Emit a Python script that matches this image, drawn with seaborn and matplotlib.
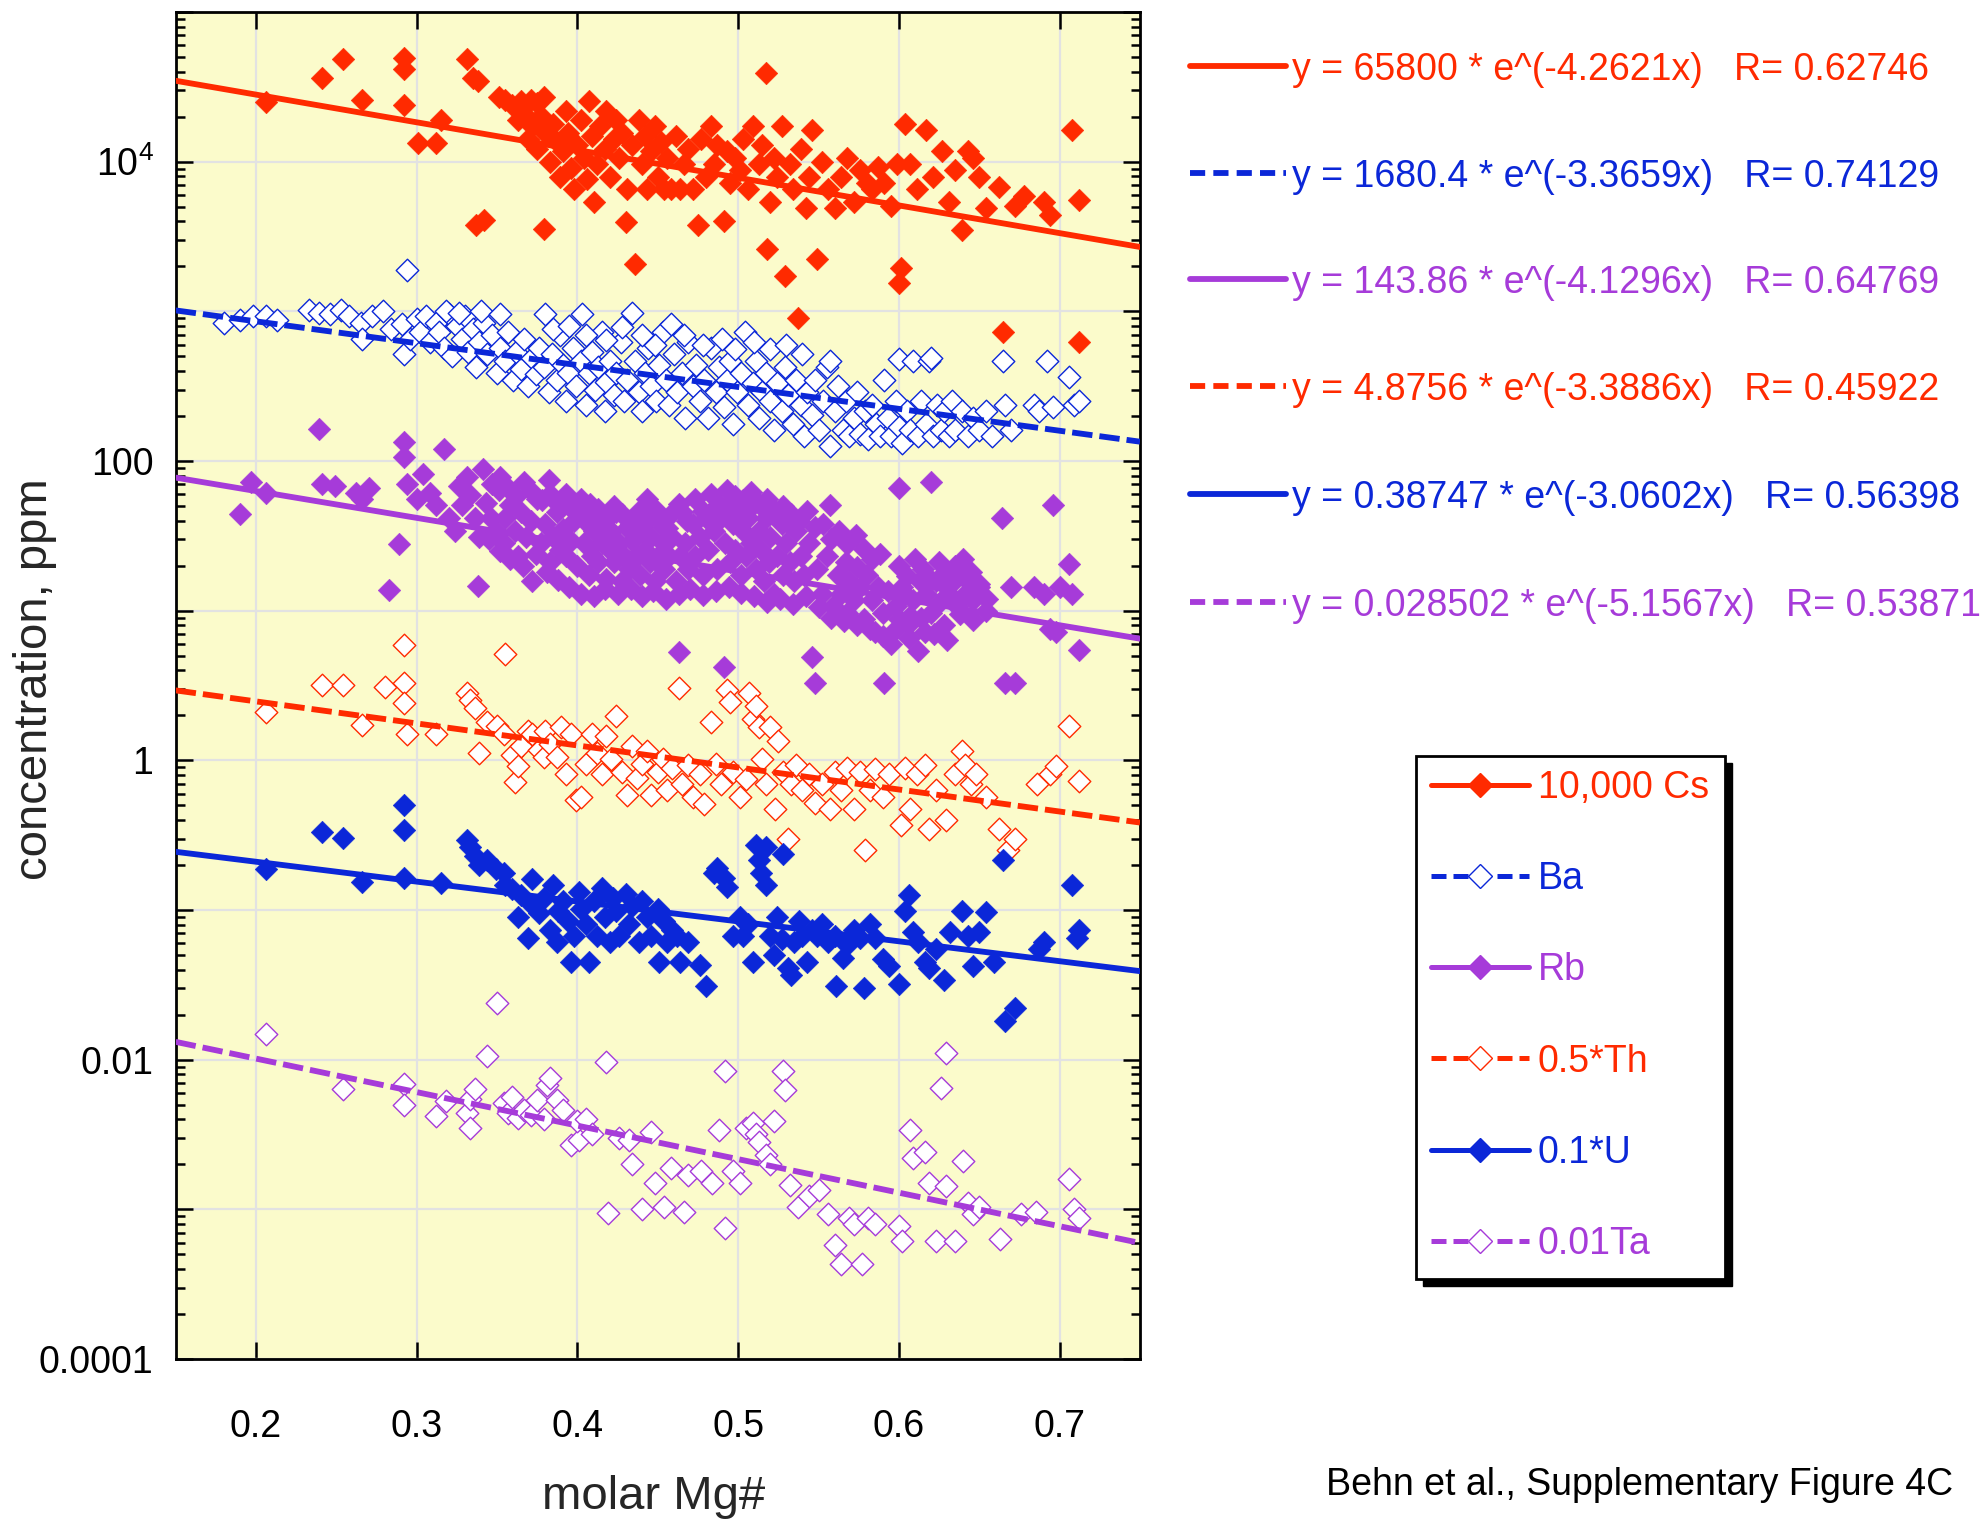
import numpy as np
import pandas as pd
import matplotlib
matplotlib.use("Agg")
import matplotlib.pyplot as plt
from matplotlib.lines import Line2D
from matplotlib.patches import Rectangle
from matplotlib.ticker import FixedLocator, FuncFormatter, LogLocator, NullFormatter, NullLocator
import seaborn as sns

# ---------------------------------------------------------------------------
# Data: (molar Mg#, scaled concentration in ppm) for each element
# ---------------------------------------------------------------------------
cs_points = [
    (0.206, 24900), (0.241, 36100), (0.254, 48300), (0.266, 25900), (0.292, 49300), (0.292, 41400),
    (0.292, 24000), (0.315, 19000), (0.312, 13400), (0.301, 13400), (0.331, 48300), (0.335, 36100),
    (0.338, 34700), (0.351, 26900), (0.355, 25900), (0.359, 24000), (0.365, 25400), (0.371, 25900),
    (0.375, 24500), (0.379, 26900), (0.337, 3790), (0.342, 4090), (0.379, 3570), (0.363, 19000),
    (0.367, 20900), (0.369, 14200), (0.372, 17200), (0.375, 12200), (0.377, 20100), (0.380, 15600),
    (0.383, 10000), (0.385, 17900), (0.387, 13600), (0.389, 7920), (0.391, 11700), (0.393, 21700),
    (0.394, 15600), (0.396, 9070), (0.398, 6520), (0.400, 12900), (0.402, 19000), (0.404, 10600),
    (0.406, 7620), (0.407, 25400), (0.409, 14800), (0.410, 5370), (0.412, 9620), (0.414, 17200),
    (0.417, 12200), (0.418, 21700), (0.420, 7920), (0.423, 14200), (0.424, 19000), (0.426, 10600),
    (0.428, 15600), (0.430, 3930), (0.431, 6520), (0.434, 12900), (0.436, 2070), (0.438, 19000),
    (0.440, 9620), (0.442, 14800), (0.443, 6520), (0.446, 11700), (0.448, 17200), (0.450, 7920),
    (0.452, 13600), (0.454, 6520), (0.456, 10600), (0.458, 6520), (0.461, 14800), (0.464, 6520),
    (0.466, 9620), (0.469, 12200), (0.472, 6520), (0.475, 3790), (0.477, 14200), (0.480, 7920),
    (0.483, 17200), (0.485, 9620), (0.487, 12900), (0.491, 4010), (0.493, 11700), (0.495, 7180),
    (0.498, 10600), (0.501, 8730), (0.503, 14200), (0.506, 6520), (0.509, 17200), (0.513, 9620),
    (0.515, 12900), (0.517, 39000), (0.518, 2620), (0.520, 5370), (0.522, 10600), (0.524, 7920),
    (0.527, 17200), (0.529, 1730), (0.532, 9620), (0.534, 6520), (0.537, 900), (0.539, 12200),
    (0.542, 4870), (0.544, 7920), (0.546, 16300), (0.549, 2240), (0.552, 10000), (0.556, 6520),
    (0.560, 4870), (0.564, 7920), (0.568, 10600), (0.572, 5370), (0.576, 8730), (0.580, 7180),
    (0.583, 6520), (0.587, 9250), (0.591, 7180), (0.595, 5050), (0.599, 9620), (0.601, 1950),
    (0.600, 1540), (0.604, 17900), (0.607, 9620), (0.611, 6520), (0.617, 16300), (0.621, 7920),
    (0.627, 11700), (0.631, 5370), (0.635, 8730), (0.639, 3490), (0.643, 11700), (0.646, 10600),
    (0.650, 7920), (0.654, 4870), (0.662, 6780), (0.665, 725), (0.672, 5060), (0.678, 5910),
    (0.690, 5370), (0.694, 4420), (0.708, 16300), (0.712, 620), (0.712, 5580),
]

ba_points = [
    (0.180, 840), (0.190, 870), (0.198, 925), (0.206, 925), (0.213, 870), (0.233, 1020), (0.239, 980),
    (0.246, 960), (0.253, 1020), (0.258, 925), (0.265, 840), (0.266, 650), (0.272, 925), (0.279, 1000),
    (0.284, 762), (0.291, 820), (0.294, 1900), (0.292, 516), (0.296, 650), (0.300, 890), (0.302, 730),
    (0.306, 925), (0.308, 627), (0.312, 840), (0.314, 730), (0.317, 569), (0.320, 960), (0.322, 500),
    (0.325, 800), (0.328, 650), (0.330, 925), (0.332, 535), (0.335, 762), (0.337, 425), (0.339, 627),
    (0.342, 840), (0.344, 516), (0.347, 691), (0.350, 386), (0.352, 569), (0.355, 469), (0.357, 730),
    (0.360, 350), (0.362, 535), (0.365, 410), (0.367, 650), (0.369, 318), (0.372, 485), (0.374, 380),
    (0.376, 569), (0.379, 425), (0.380, 960), (0.382, 288), (0.384, 516), (0.387, 350), (0.389, 691),
    (0.391, 440), (0.393, 250), (0.394, 386), (0.397, 569), (0.399, 318), (0.402, 469), (0.403, 960),
    (0.405, 237), (0.407, 386), (0.409, 535), (0.411, 300), (0.413, 425), (0.415, 730), (0.417, 215),
    (0.418, 335), (0.420, 469), (0.423, 277), (0.424, 386), (0.427, 627), (0.429, 250), (0.431, 350),
    (0.434, 980), (0.436, 469), (0.438, 288), (0.440, 215), (0.442, 386), (0.444, 569), (0.446, 318),
    (0.449, 250), (0.451, 440), (0.453, 730), (0.455, 350), (0.457, 237), (0.460, 516), (0.462, 288),
    (0.465, 386), (0.467, 195), (0.469, 627), (0.472, 318), (0.474, 440), (0.476, 250), (0.479, 350),
    (0.481, 195), (0.483, 569), (0.486, 288), (0.488, 425), (0.491, 228), (0.493, 350), (0.495, 469),
    (0.497, 177), (0.499, 288), (0.502, 386), (0.504, 730), (0.506, 237), (0.509, 330), (0.511, 469),
    (0.513, 195), (0.515, 288), (0.517, 386), (0.520, 250), (0.522, 161), (0.524, 330), (0.527, 215),
    (0.529, 425), (0.531, 277), (0.534, 177), (0.536, 350), (0.539, 237), (0.541, 146), (0.543, 288),
    (0.546, 203), (0.548, 350), (0.550, 161), (0.553, 250), (0.555, 425), (0.557, 126), (0.557, 469),
    (0.560, 215), (0.562, 318), (0.565, 161), (0.567, 250), (0.569, 146), (0.572, 195), (0.574, 288),
    (0.576, 152), (0.579, 215), (0.581, 140), (0.583, 237), (0.586, 177), (0.588, 146), (0.591, 350),
    (0.593, 195), (0.595, 146), (0.598, 250), (0.600, 168), (0.600, 480), (0.602, 132), (0.605, 215),
    (0.607, 161), (0.609, 469), (0.612, 146), (0.614, 250), (0.617, 177), (0.619, 469), (0.620, 490),
    (0.621, 146), (0.624, 237), (0.626, 161), (0.628, 215), (0.631, 146), (0.633, 250), (0.635, 161),
    (0.639, 215), (0.643, 146), (0.646, 195), (0.650, 161), (0.654, 215), (0.658, 146), (0.665, 469),
    (0.666, 237), (0.670, 161), (0.684, 237), (0.687, 215), (0.692, 469), (0.696, 228), (0.706, 365),
    (0.709, 237), (0.712, 250), (0.318, 1000), (0.326, 980), (0.340, 1000), (0.352, 960), (0.385, 760),
    (0.395, 800), (0.405, 700), (0.418, 640), (0.428, 780), (0.440, 690), (0.448, 600), (0.458, 820),
    (0.466, 700), (0.478, 600), (0.490, 650), (0.498, 560), (0.510, 620), (0.520, 560), (0.530, 600),
    (0.540, 520),
]

rb_points = [
    (0.190, 44), (0.197, 72), (0.206, 61.5), (0.239, 163), (0.241, 70), (0.249, 68), (0.262, 61.5),
    (0.266, 56), (0.270, 66), (0.283, 13.8), (0.289, 28), (0.292, 134), (0.292, 106), (0.294, 70),
    (0.300, 56), (0.304, 82), (0.308, 61.5), (0.312, 50.6), (0.317, 121), (0.320, 41.7), (0.324, 34.3),
    (0.326, 68), (0.328, 50.6), (0.331, 78), (0.333, 59), (0.336, 41.7), (0.338, 14.6), (0.339, 31.1),
    (0.343, 52.6), (0.346, 41.7), (0.349, 34.3), (0.351, 64), (0.354, 28.2), (0.355, 41.7), (0.358, 50.6),
    (0.361, 34.3), (0.363, 23.3), (0.365, 45.9), (0.368, 31.1), (0.371, 40), (0.372, 15.8), (0.375, 55.8),
    (0.377, 28.2), (0.380, 37.8), (0.382, 74.7), (0.383, 21.1), (0.385, 31.1), (0.387, 45.9), (0.389, 25.6),
    (0.391, 35.3), (0.393, 23.3), (0.394, 50.6), (0.396, 29.4), (0.398, 40), (0.400, 20), (0.402, 55.8),
    (0.404, 28.2), (0.406, 38.5), (0.407, 17.4), (0.409, 23.3), (0.410, 34.3), (0.412, 45.9), (0.413, 21.1),
    (0.415, 28.2), (0.417, 40), (0.418, 16.4), (0.420, 25.6), (0.421, 34.3), (0.423, 21.1), (0.424, 45.9),
    (0.426, 28.2), (0.428, 15.8), (0.429, 23.3), (0.431, 35.7), (0.432, 19.1), (0.434, 29.4), (0.435, 41.7),
    (0.437, 23.3), (0.439, 17.4), (0.440, 34.3), (0.442, 25.6), (0.443, 55.8), (0.445, 21.1), (0.446, 31.1),
    (0.448, 15.8), (0.450, 23.3), (0.451, 41.7), (0.453, 28.2), (0.454, 19.1), (0.456, 35.7), (0.457, 23.3),
    (0.459, 31.1), (0.461, 15.8), (0.463, 5.3), (0.464, 23.3), (0.465, 45.9), (0.467, 28.2), (0.469, 19.1),
    (0.472, 37.8), (0.473, 23.3), (0.476, 31.1), (0.478, 17.4), (0.480, 41.7), (0.481, 25.6), (0.483, 45.9),
    (0.485, 34.3), (0.487, 19.1), (0.489, 41.7), (0.491, 4.2), (0.492, 28.2), (0.494, 50.6), (0.495, 21.1),
    (0.497, 37.8), (0.498, 25.6), (0.500, 45.9), (0.502, 17.4), (0.503, 34.3), (0.505, 23.3), (0.506, 41.7),
    (0.508, 28.2), (0.509, 50.6), (0.511, 19.1), (0.513, 34.3), (0.514, 25.6), (0.516, 15.8), (0.517, 41.7),
    (0.519, 21.1), (0.520, 31.1), (0.522, 13), (0.524, 23.3), (0.527, 37.8), (0.528, 17.4), (0.530, 28.2),
    (0.532, 21.1), (0.535, 15.8), (0.536, 34.3), (0.539, 23.3), (0.541, 17.4), (0.544, 28.2), (0.546, 4.9),
    (0.548, 3.3), (0.549, 19.1), (0.552, 13), (0.555, 23.3), (0.557, 50.6), (0.559, 10.7), (0.562, 17.4),
    (0.564, 13), (0.567, 21.1), (0.568, 9.7), (0.569, 15.8), (0.572, 11.8), (0.574, 19.7), (0.576, 14.3),
    (0.578, 8.8), (0.580, 17.4), (0.583, 11.8), (0.585, 7.2), (0.587, 14.3), (0.590, 9.7), (0.591, 3.3),
    (0.593, 13.6), (0.595, 6), (0.598, 10.7), (0.600, 8.8), (0.602, 14.3), (0.604, 13), (0.606, 6.6),
    (0.607, 9.2), (0.609, 11.8), (0.612, 5.4), (0.613, 15.8), (0.616, 7.2), (0.617, 13), (0.620, 72),
    (0.620, 9.7), (0.623, 15.8), (0.625, 11.2), (0.628, 8), (0.629, 14.3), (0.631, 13), (0.634, 15.8),
    (0.636, 10.7), (0.639, 17.4), (0.641, 13), (0.643, 15.8), (0.646, 11.8), (0.650, 14.3), (0.664, 41.7),
    (0.666, 3.3), (0.672, 3.3), (0.670, 14.3), (0.684, 14.3), (0.690, 13), (0.694, 7.5), (0.698, 7.2),
    (0.700, 14.3), (0.706, 20.5), (0.708, 13), (0.712, 5.5), (0.696, 50.6), (0.600, 66),
    (0.341, 88), (0.347, 70), (0.352, 78), (0.357, 66), (0.362, 58), (0.367, 72), (0.372, 62), (0.378, 55),
    (0.383, 60), (0.388, 52), (0.393, 60), (0.398, 47), (0.403, 44), (0.408, 52), (0.413, 48), (0.418, 42),
    (0.423, 50), (0.428, 44), (0.433, 38), (0.438, 46), (0.443, 40), (0.448, 48), (0.453, 36), (0.458, 44),
    (0.463, 52), (0.468, 40), (0.473, 56), (0.478, 46), (0.483, 60), (0.488, 52), (0.493, 64), (0.498, 58),
    (0.503, 55), (0.508, 62), (0.513, 52), (0.518, 56), (0.523, 46), (0.528, 50), (0.533, 44), (0.538, 40),
    (0.543, 46), (0.548, 36), (0.553, 38), (0.558, 30), (0.563, 34), (0.568, 28), (0.573, 32), (0.578, 26),
    (0.583, 22), (0.588, 24), (0.345, 30), (0.352, 25), (0.358, 22), (0.366, 20), (0.374, 24), (0.381, 18),
    (0.388, 16), (0.395, 14.5), (0.402, 13), (0.410, 12.5), (0.417, 14), (0.425, 13), (0.433, 14),
    (0.440, 12.5), (0.447, 13.5), (0.455, 12), (0.463, 13), (0.470, 14), (0.478, 12.8), (0.486, 13.5),
    (0.494, 14.5), (0.502, 13.2), (0.510, 12.5), (0.518, 11.5), (0.526, 12), (0.534, 11), (0.542, 12.5),
    (0.550, 10.5), (0.558, 9), (0.566, 8.5), (0.574, 8), (0.582, 7.5), (0.590, 6.8), (0.598, 7.6),
    (0.606, 8.2), (0.614, 9), (0.622, 7), (0.630, 6.4), (0.638, 9.5), (0.646, 8.6), (0.654, 10),
    (0.600, 20), (0.605, 17), (0.610, 22), (0.615, 19), (0.620, 16), (0.625, 21), (0.630, 18), (0.635, 20),
    (0.640, 22), (0.645, 18), (0.650, 15), (0.655, 12),
]

th_points = [
    (0.206, 2.09), (0.241, 3.21), (0.254, 3.21), (0.266, 1.72), (0.280, 3.09), (0.292, 5.87), (0.292, 3.27),
    (0.292, 2.4), (0.294, 1.5), (0.312, 1.5), (0.331, 2.8), (0.333, 2.54), (0.336, 2.22), (0.339, 1.12),
    (0.344, 1.79), (0.350, 1.69), (0.354, 1.5), (0.355, 5.1), (0.359, 1.08), (0.361, 0.72), (0.363, 0.91),
    (0.365, 1.24), (0.369, 1.56), (0.372, 1.5), (0.376, 1.17), (0.379, 1.06), (0.380, 1.56), (0.383, 1.29),
    (0.387, 1.06), (0.390, 1.66), (0.393, 0.81), (0.396, 1.5), (0.399, 0.54), (0.402, 0.57), (0.405, 0.94),
    (0.409, 1.5), (0.412, 1.12), (0.415, 0.81), (0.418, 1.45), (0.421, 1.02), (0.424, 1.97), (0.428, 0.84),
    (0.431, 0.59), (0.434, 1.24), (0.437, 0.76), (0.440, 0.94), (0.443, 1.15), (0.446, 0.59), (0.450, 0.84),
    (0.453, 1.02), (0.456, 0.63), (0.459, 0.89), (0.463, 3.03), (0.465, 0.69), (0.469, 0.93), (0.472, 0.57),
    (0.476, 0.81), (0.479, 0.51), (0.483, 1.79), (0.486, 0.94), (0.489, 0.69), (0.493, 2.97), (0.495, 2.45),
    (0.497, 0.84), (0.501, 0.57), (0.505, 0.75), (0.507, 2.8), (0.509, 1.9), (0.511, 2.31), (0.513, 1.66),
    (0.515, 1.02), (0.517, 0.69), (0.520, 1.66), (0.523, 0.47), (0.525, 1.34), (0.528, 0.84), (0.531, 0.3),
    (0.533, 0.69), (0.536, 0.93), (0.540, 0.63), (0.544, 0.81), (0.548, 0.52), (0.552, 0.69), (0.557, 0.47),
    (0.560, 0.84), (0.564, 0.63), (0.568, 0.89), (0.572, 0.47), (0.576, 0.84), (0.579, 0.25), (0.582, 0.63),
    (0.585, 0.87), (0.590, 0.57), (0.594, 0.81), (0.601, 0.37), (0.604, 0.89), (0.607, 0.47), (0.611, 0.81),
    (0.616, 0.93), (0.619, 0.35), (0.623, 0.63), (0.629, 0.4), (0.635, 0.81), (0.639, 1.15), (0.641, 0.93),
    (0.645, 0.69), (0.648, 0.81), (0.654, 0.57), (0.662, 0.35), (0.668, 0.25), (0.672, 0.3), (0.686, 0.69),
    (0.694, 0.81), (0.698, 0.91), (0.706, 1.69), (0.712, 0.73),
]

u_points = [
    (0.206, 0.188), (0.241, 0.33), (0.254, 0.305), (0.266, 0.155), (0.292, 0.506), (0.292, 0.343),
    (0.292, 0.164), (0.315, 0.152), (0.331, 0.294), (0.333, 0.262), (0.336, 0.228), (0.339, 0.2),
    (0.344, 0.215), (0.349, 0.188), (0.354, 0.177), (0.355, 0.146), (0.359, 0.138), (0.363, 0.09),
    (0.365, 0.125), (0.369, 0.065), (0.371, 0.109), (0.372, 0.16), (0.376, 0.095), (0.379, 0.12),
    (0.383, 0.074), (0.385, 0.146), (0.387, 0.061), (0.388, 0.099), (0.391, 0.115), (0.394, 0.085),
    (0.396, 0.045), (0.398, 0.067), (0.401, 0.132), (0.402, 0.102), (0.405, 0.081), (0.407, 0.045),
    (0.410, 0.115), (0.412, 0.067), (0.415, 0.14), (0.417, 0.09), (0.420, 0.061), (0.422, 0.12),
    (0.424, 0.099), (0.426, 0.067), (0.430, 0.128), (0.432, 0.081), (0.434, 0.107), (0.438, 0.061),
    (0.440, 0.115), (0.443, 0.09), (0.446, 0.067), (0.450, 0.102), (0.451, 0.045), (0.454, 0.085),
    (0.456, 0.061), (0.459, 0.074), (0.462, 0.067), (0.464, 0.045), (0.469, 0.061), (0.476, 0.043),
    (0.480, 0.031), (0.485, 0.177), (0.487, 0.19), (0.491, 0.164), (0.493, 0.143), (0.497, 0.067),
    (0.501, 0.09), (0.503, 0.067), (0.506, 0.081), (0.509, 0.045), (0.511, 0.272), (0.513, 0.215),
    (0.514, 0.177), (0.517, 0.262), (0.517, 0.146), (0.520, 0.067), (0.522, 0.05), (0.524, 0.09),
    (0.527, 0.064), (0.528, 0.237), (0.531, 0.041), (0.533, 0.037), (0.535, 0.061), (0.538, 0.085),
    (0.540, 0.067), (0.543, 0.045), (0.546, 0.074), (0.549, 0.067), (0.552, 0.081), (0.556, 0.061),
    (0.560, 0.067), (0.561, 0.031), (0.565, 0.048), (0.568, 0.058), (0.572, 0.074), (0.576, 0.065),
    (0.578, 0.03), (0.582, 0.081), (0.585, 0.065), (0.590, 0.047), (0.594, 0.042), (0.600, 0.032),
    (0.604, 0.099), (0.606, 0.125), (0.609, 0.071), (0.612, 0.061), (0.616, 0.045), (0.619, 0.041),
    (0.623, 0.055), (0.628, 0.034), (0.632, 0.071), (0.639, 0.099), (0.643, 0.067), (0.646, 0.042),
    (0.650, 0.071), (0.654, 0.097), (0.659, 0.045), (0.665, 0.215), (0.666, 0.018), (0.672, 0.022),
    (0.687, 0.055), (0.690, 0.061), (0.708, 0.146), (0.711, 0.065), (0.712, 0.074),
]

ta_points = [
    (0.206, 0.0148), (0.254, 0.0064), (0.292, 0.0069), (0.292, 0.0050), (0.312, 0.0042), (0.318, 0.0053),
    (0.331, 0.0044), (0.333, 0.0055), (0.333, 0.0035), (0.336, 0.0064), (0.344, 0.0106), (0.350, 0.024),
    (0.354, 0.0051), (0.357, 0.0044), (0.359, 0.0056), (0.363, 0.0041), (0.367, 0.0046), (0.371, 0.0043),
    (0.375, 0.0054), (0.379, 0.0040), (0.381, 0.0068), (0.383, 0.0076), (0.387, 0.0054), (0.391, 0.0046),
    (0.396, 0.0027), (0.401, 0.0029), (0.400, 0.0039), (0.405, 0.0040), (0.409, 0.0032), (0.418, 0.0096),
    (0.419, 0.00095), (0.426, 0.0030), (0.432, 0.0029), (0.434, 0.0020), (0.440, 0.0010), (0.446, 0.0033),
    (0.448, 0.0015), (0.454, 0.00103), (0.458, 0.0019), (0.466, 0.00096), (0.469, 0.0017), (0.477, 0.0018),
    (0.484, 0.0015), (0.488, 0.0034), (0.492, 0.0084), (0.492, 0.00075), (0.497, 0.0018), (0.501, 0.0015),
    (0.505, 0.0035), (0.509, 0.0038), (0.511, 0.0032), (0.513, 0.0028), (0.517, 0.0023), (0.520, 0.0020),
    (0.522, 0.0039), (0.528, 0.0084), (0.529, 0.0063), (0.532, 0.00146), (0.537, 0.00103), (0.544, 0.00122),
    (0.550, 0.00135), (0.556, 0.00093), (0.560, 0.00058), (0.564, 0.00043), (0.569, 0.00088), (0.572, 0.0008),
    (0.577, 0.00043), (0.581, 0.00088), (0.585, 0.0008), (0.600, 0.00077), (0.602, 0.00061), (0.607, 0.0034),
    (0.609, 0.0022), (0.616, 0.0024), (0.619, 0.0015), (0.623, 0.00061), (0.629, 0.011), (0.626, 0.0065),
    (0.629, 0.00143), (0.635, 0.00061), (0.640, 0.0021), (0.643, 0.0011), (0.646, 0.00093), (0.650, 0.00103),
    (0.663, 0.00063), (0.676, 0.00093), (0.685, 0.00096), (0.706, 0.0016), (0.709, 0.0010), (0.712, 0.00088),
]

series_names = ["10,000 Cs", "Ba", "Rb", "0.5*Th", "0.1*U", "0.01Ta"]
series_points = [cs_points, ba_points, rb_points, th_points, u_points, ta_points]

# Exponential fits y = a * exp(b * x) and their correlation coefficients
fit_coef = [65800, 1680.4, 143.86, 4.8756, 0.38747, 0.028502]
fit_rate = [-4.2621, -3.3659, -4.1296, -3.3886, -3.0602, -5.1567]
fit_r = [0.62746, 0.74129, 0.64769, 0.45922, 0.56398, 0.53871]

# ---------------------------------------------------------------------------
# Styling
# ---------------------------------------------------------------------------
RED = "#FF2A00"
BLUE = "#0B27D8"
PURPLE = "#A63BD9"
series_colors = [RED, BLUE, PURPLE, RED, BLUE, PURPLE]
series_filled = [True, False, True, False, True, False]
DASH_PLOT = (0, (3.5, 1.2))
DASH_KEY = (0, (2.6, 1.4))
DASH_LEGEND = (0, (3.0, 1.4))

sns.set_theme(style="ticks")
plt.rcParams["font.family"] = ["Liberation Sans", "DejaVu Sans"]
plt.rcParams["mathtext.fontset"] = "custom"
plt.rcParams["mathtext.rm"] = "Liberation Sans"
plt.rcParams["mathtext.default"] = "regular"

W, H = 1982, 1520
fig = plt.figure(figsize=(W / 100, H / 100), dpi=100)
fig.patch.set_facecolor("white")


def fx(px):
    return px / W


def fy(py):
    return 1 - py / H


ax_left, ax_right, ax_top, ax_bottom = 175.7, 1140.0, 12.0, 1359.0
ax = fig.add_axes([fx(ax_left), fy(ax_bottom), (ax_right - ax_left) / W, (ax_bottom - ax_top) / H])
ax.set_facecolor("#FBFBCB")
ax.set_yscale("log")

frames = []
for name, pts in zip(series_names, series_points):
    frames.append(pd.DataFrame(pts, columns=["mg", "conc"]).assign(series=name))
df = pd.concat(frames, ignore_index=True)

x_fit = np.linspace(0.15, 0.75, 61)
for i, name in enumerate(series_names):
    sub = df[df["series"] == name]
    c = series_colors[i]
    if series_filled[i]:
        sns.scatterplot(data=sub, x="mg", y="conc", ax=ax, marker="D", s=132,
                        color=c, edgecolor=c, linewidth=0.4, legend=False, zorder=3)
    else:
        sns.scatterplot(data=sub, x="mg", y="conc", ax=ax, marker="D", s=132,
                        color="white", edgecolor=c, linewidth=1.0, legend=False, zorder=3)
    y_fit = fit_coef[i] * np.exp(fit_rate[i] * x_fit)
    ls = "-" if series_filled[i] else DASH_PLOT
    sns.lineplot(x=x_fit, y=y_fit, ax=ax, color=c, linewidth=4.2, linestyle=ls,
                 sort=False, errorbar=None, zorder=4)

# Axes limits, ticks and grid
ax.set_xlim(0.15, 0.75)
ax.set_ylim(1e-4, 1e5)
ax.xaxis.set_major_locator(FixedLocator([0.2, 0.3, 0.4, 0.5, 0.6, 0.7]))
ax.xaxis.set_minor_locator(NullLocator())
ax.xaxis.set_major_formatter(FuncFormatter(lambda v, p: f"{v:.1f}"))

decades = [10.0 ** k for k in range(-4, 6)]
y_labels = {-4: "0.0001", -2: "0.01", 0: "1", 2: "100", 4: "10$^{4}$"}
ax.yaxis.set_major_locator(FixedLocator(decades))
ax.yaxis.set_major_formatter(FuncFormatter(lambda v, p: y_labels.get(int(round(np.log10(v))), "")))
ax.yaxis.set_minor_locator(LogLocator(base=10, subs=np.arange(2, 10), numticks=100))
ax.yaxis.set_minor_formatter(NullFormatter())

ax.tick_params(axis="both", which="both", direction="in", top=True, right=True,
               colors="black", width=1.8)
ax.tick_params(axis="both", which="major", length=12.5, labelsize=27)
ax.tick_params(axis="both", which="minor", length=6.5)
ax.tick_params(axis="x", which="major", pad=36)
ax.tick_params(axis="y", which="major", pad=16)
for sp in ax.spines.values():
    sp.set_linewidth(2.0)
    sp.set_color("black")
ax.grid(True, which="major", color="#E2E2E2", linewidth=1.6)
ax.set_axisbelow(True)

ax.set_xlabel("molar Mg#", fontsize=34)
ax.xaxis.set_label_coords((654 - ax_left) / (ax_right - ax_left), (ax_bottom - 1497) / (ax_bottom - ax_top))
ax.xaxis.label.set_verticalalignment("center")
ax.set_ylabel("concentration, ppm", fontsize=34)
ax.yaxis.set_label_coords((35 - ax_left) / (ax_right - ax_left), (ax_bottom - 679) / (ax_bottom - ax_top))
ax.yaxis.label.set_verticalalignment("center")

# Fit equations with line keys (upper right)
eq_rows = [66, 173, 279, 386, 494, 602]
for i, yrow in enumerate(eq_rows):
    c = series_colors[i]
    ls = "-" if series_filled[i] else DASH_KEY
    fig.add_artist(Line2D([fx(1190), fx(1286)], [fy(yrow), fy(yrow)], transform=fig.transFigure,
                          color=c, linewidth=4.2, linestyle=ls))
    txt = f"y = {fit_coef[i]:g} * e^({fit_rate[i]:g}x)   R= {fit_r[i]:g}"
    fig.text(fx(1292), fy(yrow), txt, color=c, fontsize=27, ha="left", va="center_baseline")

# Series key in a framed box with a drop shadow
box_l, box_r, box_t, box_b = 1416, 1725, 756, 1279
shadow = 7
fig.add_artist(Rectangle((fx(box_l + shadow), fy(box_b + shadow)), (box_r - box_l) / W, (box_b - box_t) / H,
                         transform=fig.transFigure, facecolor="black", edgecolor="black", zorder=1))
fig.add_artist(Rectangle((fx(box_l), fy(box_b)), (box_r - box_l) / W, (box_b - box_t) / H,
                         transform=fig.transFigure, facecolor="white", edgecolor="black",
                         linewidth=2.0, zorder=2))
handles = []
for i in range(len(series_names)):
    c = series_colors[i]
    handles.append(Line2D([], [], color=c, linewidth=3.6,
                          linestyle="-" if series_filled[i] else DASH_LEGEND,
                          marker="D", markersize=12,
                          markerfacecolor=c if series_filled[i] else "white",
                          markeredgecolor=c, markeredgewidth=1.0))
leg = fig.legend(handles, series_names, loc="center", bbox_to_anchor=(fx(1570), fy(1016)),
                 bbox_transform=fig.transFigure, frameon=False, fontsize=27,
                 handlelength=2.6, handletextpad=0.25, labelspacing=1.47, borderpad=0)
leg.set_zorder(3)
for t, c in zip(leg.get_texts(), series_colors):
    t.set_color(c)

fig.text(fx(1953), fy(1485), "Behn et al., Supplementary Figure 4C", fontsize=27,
         ha="right", va="center", color="black")

fig.savefig("out.png", dpi=100, facecolor="white")
